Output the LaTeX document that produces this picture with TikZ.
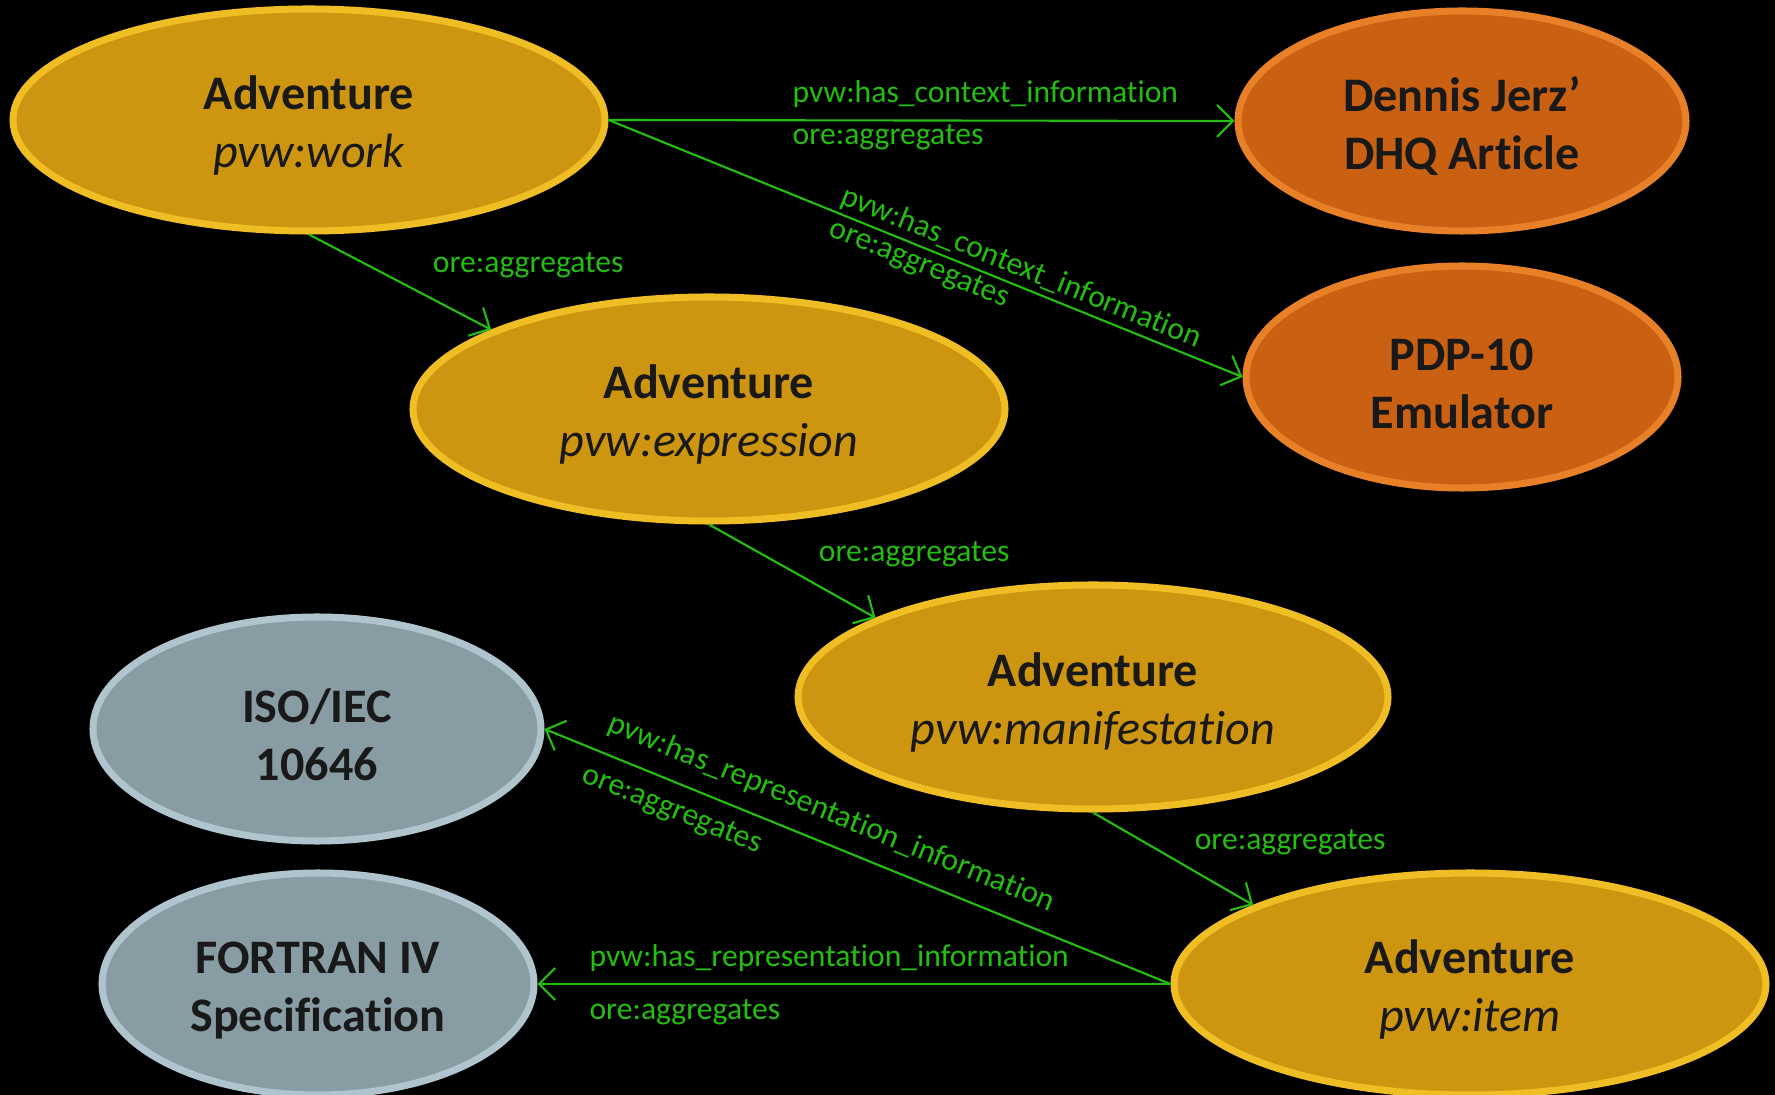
\documentclass[tikz,border=0pt]{standalone}
\usepackage{fontspec}
\setmainfont{Carlito}[Ligatures=NoCommon]
\usetikzlibrary{arrows.meta,shapes.geometric}

\definecolor{goldfill}{RGB}{206,150,16}
\definecolor{goldrim}{RGB}{238,190,36}
\definecolor{orangefill}{RGB}{202,96,18}
\definecolor{orangerim}{RGB}{232,128,40}
\definecolor{greyfill}{RGB}{136,156,164}
\definecolor{greyrim}{RGB}{176,196,206}
\definecolor{linkgreen}{RGB}{36,190,16}

% two-line ellipse text, first line set a little lower
\newcommand\twolines[2]{\rule{0pt}{12.8pt}#1\\#2}

\begin{document}
\begin{tikzpicture}[
    every node/.style={font=\fontsize{13.7}{16.5}\selectfont},
    blob/.style={ellipse, inner sep=0pt, line width=2pt, align=center, text=black!90},
    goldblob/.style={blob, fill=goldfill, draw=goldrim},
    orangeblob/.style={blob, fill=orangefill, draw=orangerim},
    greyblob/.style={blob, fill=greyfill, draw=greyrim},
    arr/.style={-{Straight Barb[length=1.6mm, width=3.2mm]}, line width=0.6pt, linkgreen},
    lbl/.style={font=\fontsize{9}{11}\selectfont, text=linkgreen, inner sep=1pt}
  ]
    \fill[black] (0,0) rectangle (17.75,-10.95);
    \useasboundingbox (0,0) rectangle (17.75,-10.95);

    \node[goldblob, minimum width=5.92cm, minimum height=2.22cm] (work) at (3.09,-1.20)
      {\twolines{\textbf{Adventure}}{\textit{pvw:work}}};
    \node[orangeblob, minimum width=4.48cm, minimum height=2.20cm] (dhq) at (14.62,-1.21)
      {\twolines{\textbf{Dennis Jerz’}}{\textbf{DHQ Article}}};
    \node[orangeblob, minimum width=4.32cm, minimum height=2.22cm] (pdp) at (14.62,-3.77)
      {\twolines{\textbf{PDP-10}}{\textbf{Emulator}}};
    \node[goldblob, minimum width=5.92cm, minimum height=2.24cm] (expr) at (7.09,-4.09)
      {\twolines{\textbf{Adventure}}{\textit{pvw:expression}}};
    \node[goldblob, minimum width=5.90cm, minimum height=2.24cm] (manif) at (10.93,-6.97)
      {\twolines{\textbf{Adventure}}{\textit{pvw:manifestation}}};
    \node[greyblob, minimum width=4.48cm, minimum height=2.24cm] (iso) at (3.17,-7.29)
      {\twolines{\textbf{ISO/IEC}}{\textbf{10646}}};
    \node[greyblob, minimum width=4.32cm, minimum height=2.22cm] (fortran) at (3.18,-9.84)
      {\twolines{\textbf{FORTRAN IV}}{\textbf{Specification}}};
    \node[goldblob, minimum width=5.92cm, minimum height=2.22cm] (item) at (14.70,-9.84)
      {\twolines{\textbf{Adventure}}{\textit{pvw:item}}};

    % context information
    \draw[arr] (work.east) -- (dhq.west)
      node[lbl, pos=0.287, anchor=south west, yshift=0.08cm] {pvw:has\_context\_information}
      node[lbl, pos=0.287, anchor=north west] {ore:aggregates};
    \draw[arr] (work.east) -- (pdp.west)
      node[lbl, pos=0.64, sloped, above] {pvw:has\_context\_information}
      node[lbl, pos=0.5, sloped, below] {ore:aggregates};

    % work -> expression -> manifestation -> item
    \draw[arr] (work.south) -- (expr.160)
      node[lbl, pos=0.32, anchor=west, xshift=0.61cm] {ore:aggregates};
    \draw[arr] (expr.south) -- (manif.160)
      node[lbl, pos=0.32, anchor=west, xshift=0.52cm] {ore:aggregates};
    \draw[arr] (manif.south) -- (item.160)
      node[lbl, pos=0.32, anchor=west, xshift=0.46cm] {ore:aggregates};

    % representation information
    \draw[arr] (item.west) -- (iso.east)
      node[lbl, pos=0.56, sloped, above=0.12cm] {pvw:has\_representation\_information}
      node[lbl, pos=0.78, sloped, below=0.1cm] {ore:aggregates};
    \draw[arr] (item.west) -- (fortran.east)
      node[lbl, pos=0.925, anchor=south west, yshift=0.08cm] {pvw:has\_representation\_information}
      node[lbl, pos=0.925, anchor=north west, yshift=-0.11cm] {ore:aggregates};
  \end{tikzpicture}
\end{document}
